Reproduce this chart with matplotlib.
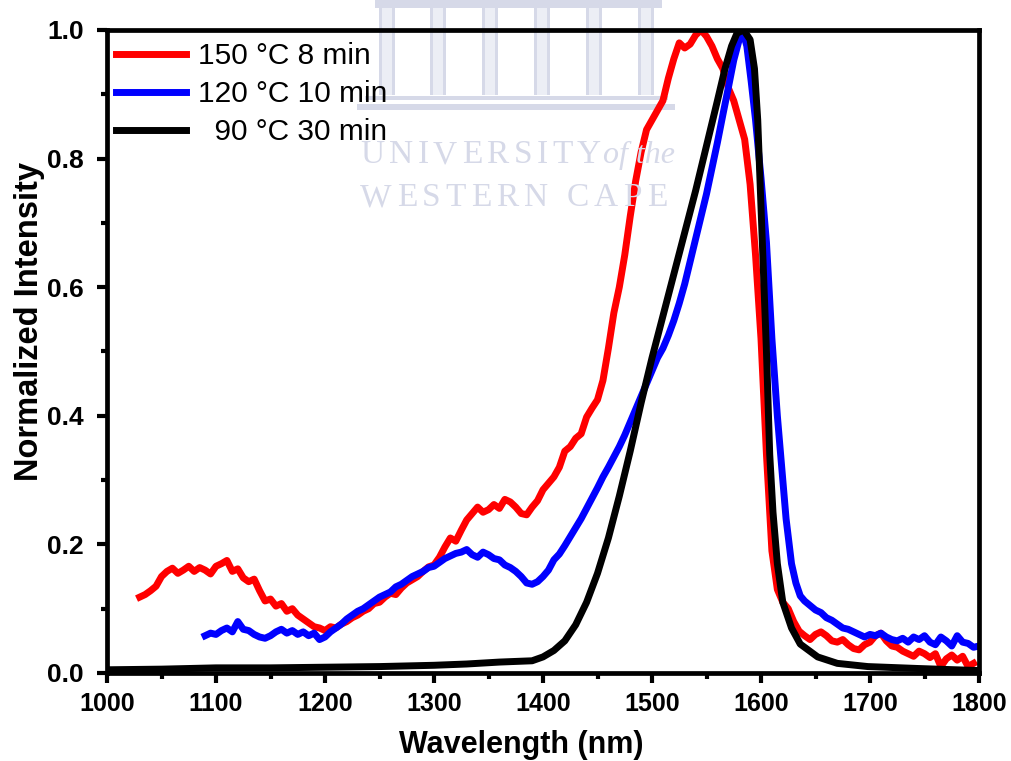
import numpy as np
import matplotlib
matplotlib.use("Agg")
import matplotlib.pyplot as plt
from matplotlib.ticker import MultipleLocator
from matplotlib.patches import Rectangle

plt.rcParams['font.family'] = ['Liberation Sans', 'DejaVu Sans']

# ---- data (wavelength nm, normalized intensity) ----
# 150 C, 8 min (red)
wl_150 = [1030, 1035, 1040, 1045, 1050, 1055, 1060, 1065, 1070, 1075, 1080, 1085,
          1090, 1095, 1100, 1105, 1110, 1115, 1120, 1125, 1130, 1135, 1140, 1145,
          1150, 1155, 1160, 1165, 1170, 1175, 1180, 1185, 1190, 1195, 1200, 1205,
          1210, 1215, 1220, 1225, 1230, 1235, 1240, 1245, 1250, 1255, 1260, 1265,
          1270, 1275, 1280, 1285, 1290, 1295, 1300, 1305, 1310, 1315, 1320, 1325,
          1330, 1335, 1340, 1345, 1350, 1355, 1360, 1365, 1370, 1375, 1380, 1385,
          1390, 1395, 1400, 1405, 1410, 1415, 1420, 1425, 1430, 1435, 1440, 1445,
          1450, 1455, 1460, 1465, 1470, 1475, 1480, 1485, 1490, 1495, 1500, 1505,
          1510, 1515, 1520, 1525, 1530, 1535, 1540, 1545, 1550, 1555, 1560, 1565,
          1570, 1575, 1580, 1585, 1590, 1595, 1600, 1605, 1610, 1615, 1620, 1625,
          1630, 1635, 1640, 1645, 1650, 1655, 1660, 1665, 1670, 1675, 1680, 1685,
          1690, 1695, 1700, 1705, 1710, 1715, 1720, 1725, 1730, 1735, 1740, 1745,
          1750, 1755, 1760, 1765, 1770, 1775, 1780, 1785, 1790, 1795]
int_150 = [0.118, 0.122, 0.128, 0.135, 0.150, 0.158, 0.163, 0.155, 0.160, 0.166, 0.158, 0.164,
           0.160, 0.154, 0.166, 0.170, 0.175, 0.158, 0.162, 0.148, 0.142, 0.146, 0.128, 0.112,
           0.115, 0.104, 0.108, 0.096, 0.100, 0.090, 0.084, 0.078, 0.072, 0.070, 0.066, 0.072,
           0.070, 0.076, 0.080, 0.086, 0.090, 0.096, 0.100, 0.108, 0.110, 0.118, 0.124, 0.122,
           0.132, 0.140, 0.145, 0.150, 0.158, 0.165, 0.168, 0.180, 0.196, 0.210, 0.205, 0.222,
           0.238, 0.248, 0.258, 0.250, 0.254, 0.262, 0.256, 0.270, 0.266, 0.258, 0.248, 0.246,
           0.258, 0.268, 0.285, 0.295, 0.305, 0.320, 0.345, 0.352, 0.365, 0.372, 0.398, 0.412,
           0.425, 0.455, 0.505, 0.560, 0.600, 0.650, 0.710, 0.765, 0.810, 0.845, 0.860, 0.875,
           0.890, 0.925, 0.955, 0.980, 0.972, 0.978, 0.992, 1.000, 0.990, 0.975, 0.955, 0.940,
           0.910, 0.890, 0.860, 0.830, 0.760, 0.650, 0.520, 0.340, 0.190, 0.130, 0.110, 0.100,
           0.080, 0.065, 0.058, 0.052, 0.060, 0.064, 0.058, 0.050, 0.048, 0.052, 0.044, 0.038,
           0.036, 0.044, 0.048, 0.058, 0.062, 0.050, 0.042, 0.040, 0.034, 0.030, 0.026, 0.034,
           0.030, 0.024, 0.030, 0.010, 0.022, 0.028, 0.020, 0.026, 0.010, 0.015]

# 120 C, 10 min (blue)
wl_120 = [1090, 1095, 1100, 1105, 1110, 1115, 1120, 1125, 1130, 1135, 1140, 1145,
          1150, 1155, 1160, 1165, 1170, 1175, 1180, 1185, 1190, 1195, 1200, 1205,
          1210, 1215, 1220, 1225, 1230, 1235, 1240, 1245, 1250, 1255, 1260, 1265,
          1270, 1275, 1280, 1285, 1290, 1295, 1300, 1305, 1310, 1315, 1320, 1325,
          1330, 1335, 1340, 1345, 1350, 1355, 1360, 1365, 1370, 1375, 1380, 1385,
          1390, 1395, 1400, 1405, 1410, 1415, 1420, 1425, 1430, 1435, 1440, 1445,
          1450, 1455, 1460, 1465, 1470, 1475, 1480, 1485, 1490, 1495, 1500, 1505,
          1510, 1515, 1520, 1525, 1530, 1535, 1540, 1545, 1550, 1555, 1560, 1565,
          1570, 1575, 1580, 1583, 1587, 1591, 1595, 1600, 1605, 1610, 1615, 1619,
          1623, 1628, 1632, 1636, 1640, 1645, 1650, 1655, 1660, 1665, 1670, 1675,
          1680, 1685, 1690, 1695, 1700, 1705, 1710, 1715, 1720, 1725, 1730, 1735,
          1740, 1745, 1750, 1755, 1760, 1765, 1770, 1775, 1780, 1785, 1790, 1795, 1800]
int_120 = [0.058, 0.062, 0.060, 0.066, 0.070, 0.064, 0.080, 0.068, 0.066, 0.060, 0.056, 0.054,
           0.058, 0.064, 0.068, 0.062, 0.066, 0.060, 0.064, 0.058, 0.062, 0.052, 0.056, 0.064,
           0.070, 0.076, 0.084, 0.090, 0.096, 0.100, 0.106, 0.112, 0.118, 0.122, 0.126, 0.134,
           0.138, 0.144, 0.150, 0.154, 0.158, 0.164, 0.166, 0.172, 0.178, 0.182, 0.186, 0.188,
           0.192, 0.184, 0.180, 0.188, 0.184, 0.178, 0.176, 0.168, 0.164, 0.158, 0.150, 0.140,
           0.138, 0.142, 0.150, 0.160, 0.176, 0.185, 0.198, 0.212, 0.226, 0.240, 0.256, 0.272,
           0.288, 0.305, 0.320, 0.336, 0.352, 0.370, 0.390, 0.410, 0.430, 0.450, 0.470, 0.490,
           0.505, 0.525, 0.548, 0.575, 0.605, 0.640, 0.675, 0.710, 0.745, 0.785, 0.825, 0.868,
           0.910, 0.953, 0.985, 1.000, 0.975, 0.920, 0.860, 0.770, 0.670, 0.520, 0.400, 0.320,
           0.240, 0.170, 0.140, 0.120, 0.112, 0.105, 0.098, 0.094, 0.086, 0.082, 0.076, 0.070,
           0.068, 0.064, 0.060, 0.056, 0.060, 0.058, 0.062, 0.056, 0.052, 0.050, 0.054, 0.048,
           0.056, 0.052, 0.058, 0.048, 0.044, 0.056, 0.050, 0.042, 0.058, 0.048, 0.046, 0.040, 0.042]

# 90 C, 30 min (black)
wl_90 = [1000, 1050, 1100, 1150, 1200, 1250, 1300, 1330, 1360, 1390, 1400, 1410,
         1420, 1430, 1440, 1450, 1460, 1470, 1480, 1490, 1500, 1510, 1520, 1530,
         1540, 1550, 1560, 1567, 1573, 1578, 1584, 1590, 1594, 1597, 1601, 1605,
         1608, 1611, 1615, 1620, 1628, 1636, 1652, 1670, 1698, 1744, 1796]
int_90 = [0.005, 0.006, 0.008, 0.008, 0.009, 0.010, 0.012, 0.014, 0.017, 0.019, 0.025, 0.035,
          0.050, 0.075, 0.110, 0.155, 0.210, 0.275, 0.345, 0.420, 0.490, 0.555, 0.620, 0.685,
          0.750, 0.820, 0.890, 0.940, 0.975, 0.995, 1.000, 0.985, 0.940, 0.860, 0.680, 0.500,
          0.340, 0.250, 0.170, 0.110, 0.070, 0.045, 0.025, 0.015, 0.010, 0.007, 0.004]

labels = ['150 °C 8 min', '120 °C 10 min', '  90 °C 30 min']
colors = ['#ff0000', '#0000ff', '#000000']

W, H = 1011, 761
fig = plt.figure(figsize=(W / 100, H / 100), dpi=100)
renderer = fig.canvas.get_renderer()

# ---- faint university watermark behind the plot (pixel coords -> figure fraction) ----
wm = '#d6d9e8'
def prect(x0, y0, x1, y1, **kw):
    fig.add_artist(Rectangle((x0 / W, 1 - y1 / H), (x1 - x0) / W, (y1 - y0) / H,
                             transform=fig.transFigure, zorder=0, **kw))

def spaced_text(s, x0, y, size, gap, word_gap, **kw):
    # letter-spaced watermark text, one glyph at a time
    x = x0
    for ch in s:
        if ch == ' ':
            x += word_gap
            continue
        t = fig.text(x / W, 1 - y / H, ch, fontsize=size, ha='left', va='center',
                     zorder=0, **kw)
        x += t.get_window_extent(renderer).width + gap
    return x

prect(375, 0, 662, 8, color=wm, lw=0)
for cx in [387, 438, 490, 542, 594, 646]:
    prect(cx - 8, 8, cx + 8, 95, color='#eceef5', lw=0)
    prect(cx - 8, 8, cx - 5, 95, color=wm, lw=0)
    prect(cx + 5, 8, cx + 8, 95, color=wm, lw=0)
prect(365, 96, 668, 100, color=wm, lw=0)
prect(357, 104, 675, 110, color=wm, lw=0)

serif = ['Liberation Serif', 'DejaVu Serif']
spaced_text('UNIVERSITY', 360, 155, 24, 4.5, 0, family=serif, color=wm)
fig.text(675 / W, 1 - 155 / H, 'of the', fontsize=23, family=serif, style='italic',
         color=wm, ha='right', va='center', zorder=0)
spaced_text('WESTERN CAPE', 360, 198, 24, 5, 14, family=serif, color=wm)

ax = fig.add_axes([107 / W, 1 - 673 / H, 872 / W, 643 / H])
ax.patch.set_alpha(0)

ax.plot(wl_150, int_150, color=colors[0], lw=5, label=labels[0], solid_joinstyle='round')
ax.plot(wl_120, int_120, color=colors[1], lw=5, label=labels[1], solid_joinstyle='round')
ax.plot(wl_90, int_90, color=colors[2], lw=5, label=labels[2], solid_joinstyle='round')

ax.set_xlim(1000, 1800)
ax.set_ylim(0, 1.0)
ax.xaxis.set_major_locator(MultipleLocator(100))
ax.xaxis.set_minor_locator(MultipleLocator(50))
ax.yaxis.set_major_locator(MultipleLocator(0.2))
ax.yaxis.set_minor_locator(MultipleLocator(0.1))

for s in ax.spines.values():
    s.set_linewidth(3.4)
ax.tick_params(which='major', direction='out', length=7.5, width=3)
ax.tick_params(which='minor', direction='out', length=4, width=3)
ax.tick_params(axis='x', labelsize=18, pad=6)
ax.tick_params(axis='y', labelsize=19, pad=9)
for t in ax.get_xticklabels() + ax.get_yticklabels():
    t.set_fontweight('bold')
ax.yaxis.set_major_formatter(plt.FormatStrFormatter('%.1f'))

ax.set_xlabel('Wavelength (nm)', fontsize=22, fontweight='bold', labelpad=10)
ax.xaxis.label.set_x(0.475)
ax.set_ylabel('Normalized Intensity', fontsize=23.5, fontweight='bold', labelpad=2)
ax.yaxis.label.set_y(0.546)

leg = ax.legend(loc='upper left', bbox_to_anchor=(0, 0.995), frameon=False, fontsize=21.5,
                handlelength=2.35, handletextpad=0.4, labelspacing=0.34,
                borderaxespad=0.0, borderpad=0.3)
for ln in leg.get_lines():
    ln.set_linewidth(5)

fig.savefig('out.png', dpi=100)
